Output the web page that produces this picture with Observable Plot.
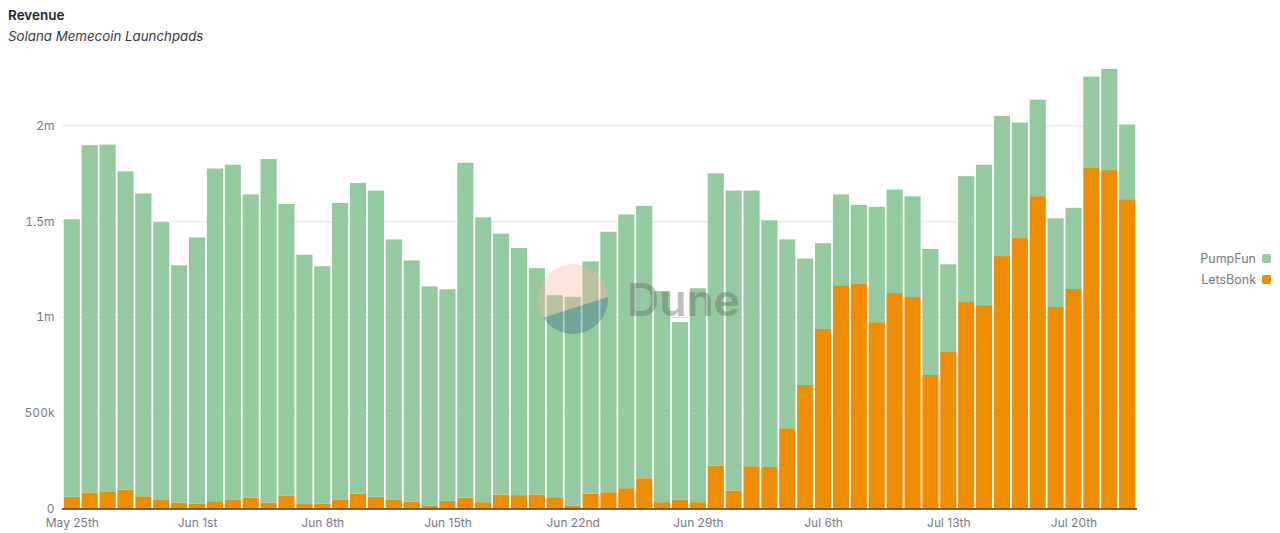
<!DOCTYPE html>
<html>
<head>
<meta charset="utf-8">
<script src="https://cdn.jsdelivr.net/npm/d3@7"></script>
<script src="https://cdn.jsdelivr.net/npm/@observablehq/plot@0.6"></script>
<style>
  html, body { margin: 0; padding: 0; background: #fff; overflow: hidden; }
  body { width: 1280px; height: 533px; position: relative; font-family: Inter, "Noto Sans", sans-serif; }
  #head { height: 50px; box-sizing: border-box; padding: 7px 0 0 8px; }
  #title { font-size: 13.5px; font-weight: 600; color: #26262b; line-height: 16px; }
  #subtitle { font-size: 13.3px; font-style: italic; color: #3a3a40; line-height: 16px; margin-top: 5px; }
  #chart svg { display: block; }
  #legend { position: absolute; right: 9px; top: 248px; font-size: 12.5px; color: #7b7b85; text-align: right; }
  #legend div { height: 21px; line-height: 17px; display: flex; justify-content: flex-end; align-items: center; }
  #legend i { display: inline-block; width: 9px; height: 9px; border-radius: 2px; margin-left: 6px; }
  #mark { position: absolute; left: 530px; top: 255px; pointer-events: none; }
</style>
</head>
<body>
<div id="head">
  <div id="title">Revenue</div>
  <div id="subtitle">Solana Memecoin Launchpads</div>
</div>
<div id="chart"></div>
<div id="legend"></div>
<svg id="mark" width="230" height="90">
  <defs><clipPath id="disc"><circle cx="43" cy="44" r="35"/></clipPath></defs>
  <g clip-path="url(#disc)" opacity="0.36">
    <rect x="0" y="0" width="90" height="90" fill="#f9b3a6"/>
    <path d="M0 67 L90 38 L90 90 L0 90 Z" fill="#33688a"/>
  </g>
  <text x="97" y="61" font-family="Inter, 'Noto Sans', sans-serif" font-size="44.5" font-weight="600" fill="#5f6b66" opacity="0.42">Dune</text>
</svg>
<script>
// thousands of USD per day, May 25th to Jul 23rd
const letsBonk = [61,84,90,99,64,45,31,26,38,45,57,31,66,23,26,45,78,61,45,35,16,40,57,33,73,70,73,59,16,78,85,106,158,33,47,33,223,94,221,217,419,645,937,1166,1172,973,1125,1104,697,817,1078,1062,1318,1412,1631,1052,1146,1782,1767,1615];
const pumpFun = [1449,1813,1810,1661,1581,1450,1239,1389,1737,1750,1583,1794,1524,1302,1239,1550,1622,1599,1360,1260,1144,1105,1748,1487,1362,1290,1182,1055,1089,1212,1360,1429,1422,1102,926,1117,1527,1566,1439,1288,986,660,448,474,413,602,540,526,658,458,657,733,732,603,504,463,424,473,528,390];
const seriesNames = ["LetsBonk", "PumpFun"];
const seriesColors = ["#EE8D00", "#95C9A0"];
const yTicks = [0, 500, 1000, 1500, 2000];
const firstDay = new Date(Date.UTC(2025, 4, 25));

const days = letsBonk.map((_, i) => d3.utcDay.offset(firstDay, i));
const rows = [
  ...days.map((day, i) => ({day, series: "LetsBonk", value: letsBonk[i]})),
  ...days.map((day, i) => ({day, series: "PumpFun", value: pumpFun[i]}))
];
const suffix = n => (n % 10 === 1 && n !== 11) ? "st" : (n % 10 === 2 && n !== 12) ? "nd" : (n % 10 === 3 && n !== 13) ? "rd" : "th";
const dayLabel = d => d3.utcFormat("%b %-d")(d) + suffix(d.getUTCDate());
const yLabel = v => v === 0 ? "0" : v >= 1000 ? (v / 1000) + "m" : v + "k";
const textColor = "#7b7b85";

const plot = Plot.plot({
  width: 1280,
  height: 483,
  marginTop: 18,
  marginBottom: 24.5,
  marginLeft: 62,
  marginRight: 143,
  style: {fontFamily: "Inter, 'Noto Sans', sans-serif", fontSize: "12px", background: "#fff"},
  x: {type: "band", domain: days, padding: 0.1, label: null},
  y: {domain: [0, 2300], label: null},
  color: {domain: seriesNames, range: seriesColors},
  marks: [
    Plot.gridY(yTicks, {stroke: "#e4e4e4", strokeOpacity: 1, strokeWidth: 1}),
    Plot.barY(rows, {x: "day", y: "value", fill: "series", order: seriesNames}),
    Plot.ruleY([0], {stroke: "#3a3a3a", strokeWidth: 1.5}),
    Plot.axisY({ticks: yTicks, tickFormat: yLabel, tickSize: 0, tickPadding: 8, label: null, color: textColor, fontSize: 12}),
    Plot.axisX({ticks: days.filter((_, i) => i % 7 === 0), tickFormat: dayLabel, tickSize: 0, tickPadding: 9, label: null, color: textColor, fontSize: 12})
  ]
});
document.getElementById("chart").appendChild(plot);

const legend = document.getElementById("legend");
[1, 0].forEach(i => {
  const row = document.createElement("div");
  row.textContent = seriesNames[i];
  const sw = document.createElement("i");
  sw.style.background = seriesColors[i];
  row.appendChild(sw);
  legend.appendChild(row);
});
</script>
</body>
</html>
